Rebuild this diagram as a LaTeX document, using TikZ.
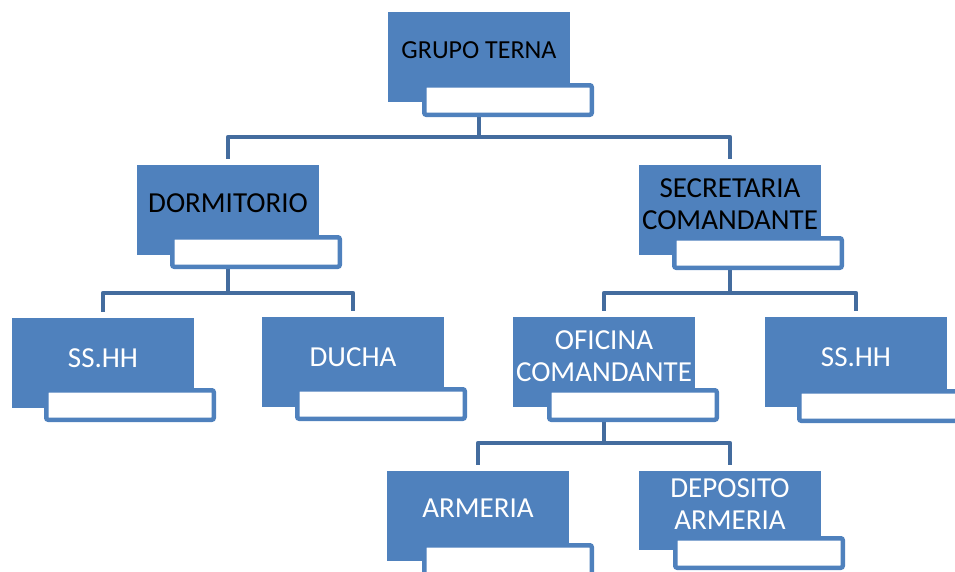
\documentclass[tikz,border=0pt]{standalone}
\usepackage{fontspec}
\setmainfont{Carlito}
\definecolor{boxblue}{RGB}{79,129,189}
\definecolor{lineblue}{RGB}{68,108,158}
\begin{document}
\begin{tikzpicture}[x=1pt,y=-1pt,
  bluebox/.style={rectangle,fill=boxblue,draw=none,inner sep=0pt,minimum width=182pt,minimum height=90pt},
  whitebox/.style={rectangle,fill=white,draw=boxblue,line width=4.5pt,rounded corners=2pt,inner sep=0pt,minimum width=167.5pt,minimum height=29.5pt},
  label/.style={inner sep=0pt,align=center,font=\fontsize{29pt}{32pt}\selectfont},
  darktext/.style={label,text=black},
  lighttext/.style={label,text=white},
  conn/.style={draw=lineblue,line width=4.5pt,line join=round,shorten >=6pt}
]
\useasboundingbox (0,0) rectangle (955,571);
% bus coordinates
\coordinate (bus1) at (0,137);
\coordinate (bus2) at (0,293);
\coordinate (bus3) at (0,443);
% blue boxes
\node[bluebox] (g) at (479,57) {};
\node[bluebox] (d) at (228,210) {};
\node[bluebox] (s) at (730,210) {};
\node[bluebox] (sl) at (103,363) {};
\node[bluebox] (du) at (353,362) {};
\node[bluebox] (o) at (604,362) {};
\node[bluebox] (sr) at (856,362) {};
\node[bluebox] (a) at (478,516) {};
\node[bluebox,minimum height=79pt] (dp) at (730,510.5) {};
% connectors
\draw[conn] (g.center) -- (g.center |- bus1) -| (d.north);
\draw[conn] (g.center |- bus1) -| (s.north);
\draw[conn] (d.center) -- (d.center |- bus2) -| (sl.north);
\draw[conn] (d.center |- bus2) -| (du.north);
\draw[conn] (s.center) -- (s.center |- bus2) -| (o.north);
\draw[conn] (s.center |- bus2) -| (sr.north);
\draw[conn] (o.center) -- (o.center |- bus3) -| (a.north);
\draw[conn] (o.center |- bus3) -| (dp.north);
% redraw blue boxes over connector stubs
\fill[boxblue] (g.south west) rectangle (g.north east);
\fill[boxblue] (d.south west) rectangle (d.north east);
\fill[boxblue] (s.south west) rectangle (s.north east);
\fill[boxblue] (sl.south west) rectangle (sl.north east);
\fill[boxblue] (du.south west) rectangle (du.north east);
\fill[boxblue] (o.south west) rectangle (o.north east);
\fill[boxblue] (sr.south west) rectangle (sr.north east);
\fill[boxblue] (a.south west) rectangle (a.north east);
\fill[boxblue] (dp.south west) rectangle (dp.north east);
% white boxes
\node[whitebox] (gw) at (508,100) {};
\node[whitebox] (dw) at (256,252) {};
\node[whitebox] (sw) at (758,253) {};
\node[whitebox] (slw) at (130,405) {};
\node[whitebox] (duw) at (381,404) {};
\node[whitebox] (ow) at (633,405) {};
\node[whitebox] (srw) at (883,406) {};
\node[whitebox] (aw) at (508,560) {};
\node[whitebox] (dpw) at (759,553) {};
% texts
\node[darktext,font=\fontsize{26pt}{32pt}\selectfont] (gt) at (479,50) {GRUPO TERNA};
\node[darktext] (dt) at (228,203) {DORMITORIO};
\node[darktext] (st) at (730,204) {SECRETARIA\\COMANDANTE};
\node[lighttext] (slt) at (103,358) {SS.HH};
\node[lighttext] (dut) at (353,357) {DUCHA};
\node[lighttext] (ot) at (604,356) {OFICINA\\COMANDANTE};
\node[lighttext] (srt) at (856,357) {SS.HH};
\node[lighttext] (at) at (478,508) {ARMERIA};
\node[lighttext] (dpt) at (730,504) {DEPOSITO\\ARMERIA};
\end{tikzpicture}
\end{document}
